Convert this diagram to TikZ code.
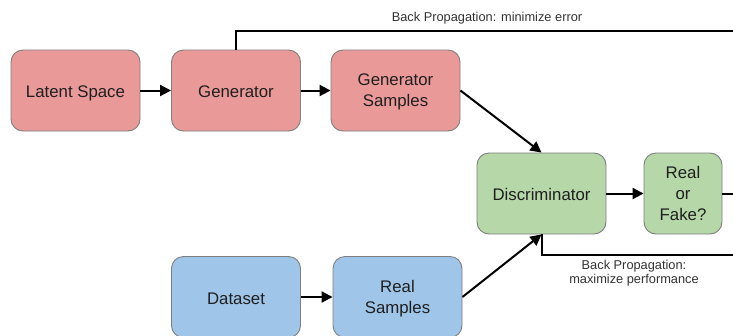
\documentclass[tikz,border=0pt]{standalone}
\usepackage{fontspec}
\setmainfont{Liberation Sans}
\usetikzlibrary{arrows.meta}
\definecolor{genred}{HTML}{EA9999}
\definecolor{discgreen}{HTML}{B6D7A8}
\definecolor{datablue}{HTML}{9FC5E8}
\definecolor{boxedge}{HTML}{7F7F7F}
\definecolor{labeltext}{HTML}{333333}
\tikzset{
  block/.style={draw=boxedge, line width=0.9pt, rounded corners=12pt,
    minimum width=129pt, minimum height=81pt, inner sep=0pt, align=center,
    text=black!88, font=\fontsize{16.8}{21}\selectfont,
    text depth=0pt, execute at begin node={\rule{0pt}{14pt}}},
  flow/.style={line width=2pt, -{Triangle[length=11pt,width=11pt]}},
  feedback/.style={line width=2pt},
  note/.style={text=labeltext, align=center, inner sep=0pt,
    font=\fontsize{12.8}{14}\selectfont}
}
\begin{document}
\begin{tikzpicture}[x=1pt, y=-1pt]
\clip (0,0) rectangle (733,335);
\fill[white] (0,0) rectangle (733,335);

% generator branch
\node[block, fill=genred] (latent) at (75.5,90.5) {Latent Space};
\node[block, fill=genred] (gen) at (236,90.5) {Generator};
\node[block, fill=genred] (gsamp) at (395.5,90.5) {Generator\\Samples};

% discriminator
\node[block, fill=discgreen] (disc) at (541.5,193.5) {Discriminator};
\node[block, fill=discgreen, minimum width=78pt] (verdict) at (683,193.5) {Real\\or\\Fake?};

% real data branch
\node[block, fill=datablue] (data) at (236,297) {Dataset};
\node[block, fill=datablue] (rsamp) at (397.5,297) {Real\\Samples};

% loose ends running off to the right
\coordinate (topend) at (745,31);
\coordinate (midend) at (745,193.5);
\coordinate (botend) at (745,255);

% forward flow
\draw[flow] (latent) -- (gen);
\draw[flow] (gen) -- (gsamp);
\draw[flow] (gsamp.east) -- (disc.north);
\draw[flow] (data) -- (rsamp);
\draw[flow] (rsamp.east) -- (disc.south);
\draw[flow] (disc) -- (verdict);

% feedback paths
\draw[feedback] (verdict.east) -- (midend);
\draw[feedback] (gen.north) |- (topend);
\draw[feedback] (disc.south) |- (botend);

% labels
\node[note] (minerr) at (487,18) {Back Propagation: minimize error};
\node[note] (maxperf) at (634,273) {Back Propagation:\\maximize performance};
\end{tikzpicture}
\end{document}
